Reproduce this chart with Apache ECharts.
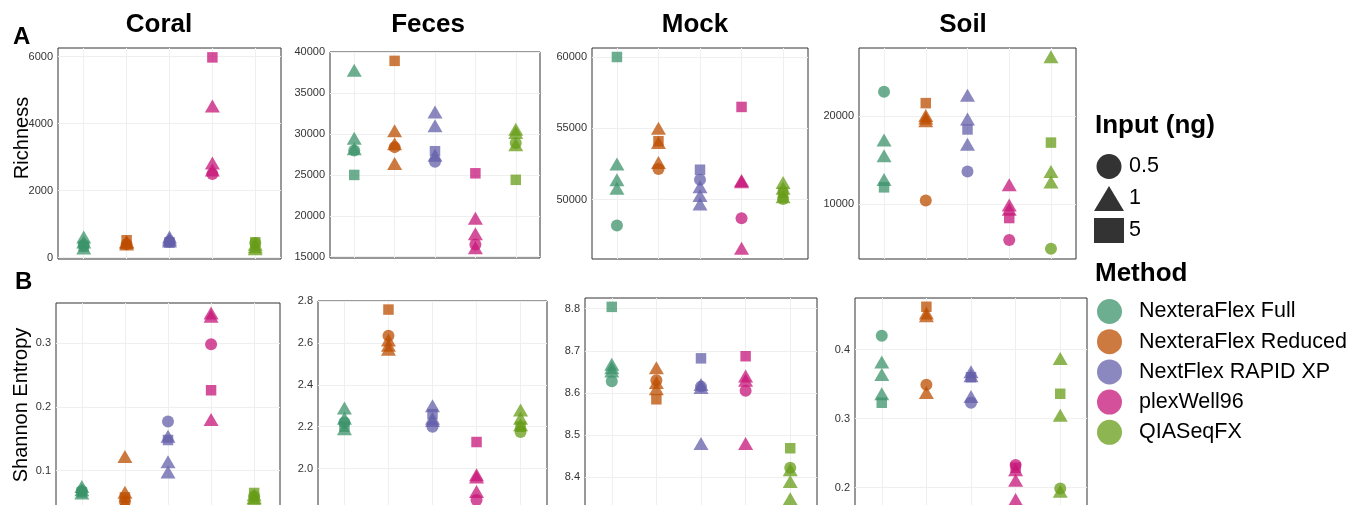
<!DOCTYPE html>
<html>
<head>
<meta charset="utf-8">
<script src="https://cdn.jsdelivr.net/npm/echarts@6/dist/echarts.min.js"></script>
<style>
html,body{margin:0;padding:0;background:#fff;overflow:hidden;}
#chart{width:1355px;height:540px;}
</style>
</head>
<body>
<div id="chart"></div>
<script>
// ---------- DATA ----------
const sites = ['Coral', 'Feces', 'Mock', 'Soil'];
const methods = ['NexteraFlex Full', 'NexteraFlex Reduced', 'NextFlex RAPID XP', 'plexWell96', 'QIASeqFX'];
const inputLevels = ['0.5', '1', '5'];
// input (ng) of each replicate, in the order of the value rows below
const pointInputs = ['0.5', '1', '1', '1', '5'];

// Richness, rows = methods, columns follow pointInputs
const richnessCoral = [
  [380, 620, 470, 290, 330],
  [400, 480, 450, 410, 520],
  [480, 620, 550, 500, 450],
  [2500, 4530, 2830, 2620, 5980],
  [440, 400, 330, 270, 460]
];
const richnessFeces = [
  [28000, 37800, 29500, 28200, 25000],
  [28400, 30400, 28800, 26400, 38950],
  [26600, 32700, 31000, 27400, 27900],
  [16500, 19700, 17800, 16100, 25200],
  [28900, 30600, 30200, 28700, 24400]
];
const richnessMock = [
  [48200, 52500, 51400, 50800, 60000],
  [52150, 55000, 54000, 52600, 54100],
  [51400, 50900, 50300, 49700, 52100],
  [48700, 51350, 51250, 46600, 56500],
  [50050, 51200, 50800, 50200, 50500]
];
const richnessSoil = [
  [22800, 17300, 15500, 12800, 11900],
  [10400, 20100, 19800, 19500, 21500],
  [13700, 22400, 19700, 16800, 18500],
  [5900, 12200, 9900, 9400, 8400],
  [4900, 26800, 13700, 12500, 17000]
];

// Shannon entropy
const shannonCoral = [
  [0.068, 0.075, 0.070, 0.065, 0.066],
  [0.052, 0.122, 0.066, 0.050, 0.058],
  [0.177, 0.154, 0.114, 0.098, 0.148],
  [0.298, 0.347, 0.342, 0.180, 0.226],
  [0.060, 0.062, 0.058, 0.055, 0.065]
];
const shannonFeces = [
  [2.22, 2.29, 2.24, 2.19, 2.20],
  [2.635, 2.615, 2.59, 2.57, 2.76],
  [2.20, 2.30, 2.24, 2.23, 2.26],
  [1.85, 1.97, 1.96, 1.89, 2.127],
  [2.175, 2.28, 2.24, 2.21, 2.20]
];
const shannonMock = [
  [8.628, 8.668, 8.660, 8.652, 8.804],
  [8.630, 8.660, 8.625, 8.610, 8.585],
  [8.615, 8.620, 8.613, 8.480, 8.682],
  [8.605, 8.640, 8.630, 8.480, 8.687],
  [8.423, 8.418, 8.390, 8.349, 8.469]
];
const shannonSoil = [
  [0.420, 0.382, 0.364, 0.336, 0.323],
  [0.349, 0.453, 0.449, 0.338, 0.462],
  [0.323, 0.368, 0.362, 0.332, 0.360],
  [0.233, 0.226, 0.211, 0.183, 0.229],
  [0.199, 0.387, 0.305, 0.195, 0.336]
];

// Tick labels
const richnessTicksCoral = [0, 2000, 4000, 6000];
const richnessTicksFeces = [15000, 20000, 25000, 30000, 35000, 40000];
const richnessTicksMock = [50000, 55000, 60000];
const richnessTicksSoil = [10000, 20000];
const shannonTicksCoral = [0.1, 0.2, 0.3];
const shannonTicksFeces = [1.8, 2.0, 2.2, 2.4, 2.6, 2.8];
const shannonTicksMock = [8.3, 8.4, 8.5, 8.6, 8.7, 8.8];
const shannonTicksSoil = [0.2, 0.3, 0.4];

// ---------- LAYOUT / STYLE ----------
const FONT = '"Liberation Sans", Arial, Helvetica, sans-serif';
const methodColors = ['#3b936a', '#bc4e00', '#645faa', '#c71678', '#679c17'];
const pointOpacity = 0.75;
const shapeSymbol = { '0.5': 'circle', '1': 'triangle', '5': 'rect' };
const shapeSize = { '0.5': 12, '1': [15, 13], '5': 10.5 };

const rows = [
  { label: 'A', title: 'Richness', decimals: 0,
    values: [richnessCoral, richnessFeces, richnessMock, richnessSoil],
    ticks: [richnessTicksCoral, richnessTicksFeces, richnessTicksMock, richnessTicksSoil],
    boxes: [
      { left: 58, top: 48, width: 223, height: 211, min: -39, max: 6260 },
      { left: 330, top: 52, width: 210, height: 206, min: 14840, max: 40035 },
      { left: 592, top: 48, width: 216, height: 211, min: 45845, max: 60630 },
      { left: 859, top: 48, width: 217, height: 211, min: 3730, max: 27785 }
    ] },
  { label: 'B', title: 'Shannon Entropy', decimals: 1,
    values: [shannonCoral, shannonFeces, shannonMock, shannonSoil],
    ticks: [shannonTicksCoral, shannonTicksFeces, shannonTicksMock, shannonTicksSoil],
    boxes: [
      { left: 56, top: 303, width: 224, height: 211, min: 0.032, max: 0.3628 },
      { left: 318, top: 301, width: 229, height: 211, min: 1.7925, max: 2.801 },
      { left: 585, top: 298, width: 232, height: 211, min: 8.325, max: 8.825 },
      { left: 855, top: 298, width: 232, height: 211, min: 0.1692, max: 0.4747 }
    ] }
];

const grids = [], xAxes = [], yAxes = [], series = [];

rows.forEach((row, r) => {
  sites.forEach((site, s) => {
    const gi = r * 4 + s;
    const b = row.boxes[s];
    const ticks = row.ticks[s].filter(t => t >= b.min && t <= b.max);
    grids.push({
      left: b.left, top: b.top, width: b.width, height: b.height,
      show: true, borderColor: '#333', borderWidth: 1, backgroundColor: '#fff'
    });
    xAxes.push({
      type: 'value', gridIndex: gi, min: -0.6, max: methods.length - 0.4, show: false
    });
    yAxes.push({
      type: 'value', gridIndex: gi, min: b.min, max: b.max,
      axisLine: { show: false },
      splitLine: { show: false },
      axisTick: { show: true, length: 3, lineStyle: { color: '#333', width: 1 }, customValues: ticks },
      axisLabel: {
        customValues: ticks, margin: 5, fontSize: 11, color: '#333', fontFamily: FONT,
        formatter: v => Number(v).toFixed(row.decimals)
      }
    });
    // grid lines
    series.push({
      type: 'scatter', xAxisIndex: gi, yAxisIndex: gi, data: [], silent: true, z: 1,
      markLine: {
        silent: true, z: 1, animation: false, symbol: ['none', 'none'],
        label: { show: false },
        lineStyle: { color: '#efefef', width: 1, type: 'solid' },
        emphasis: { disabled: true },
        data: methods.map((m, i) => ({ xAxis: i })).concat(ticks.map(t => ({ yAxis: t })))
      }
    });
    // points
    methods.forEach((m, mi) => {
      series.push({
        type: 'scatter', name: m, xAxisIndex: gi, yAxisIndex: gi, z: 3,
        itemStyle: { color: methodColors[mi], opacity: pointOpacity },
        emphasis: { disabled: true },
        data: row.values[s][mi].map((v, k) => ({
          value: [mi, v],
          symbol: shapeSymbol[pointInputs[k]],
          symbolSize: shapeSize[pointInputs[k]]
        }))
      });
    });
  });
});

// dummy series for the Input legend
inputLevels.forEach(lv => {
  series.push({
    type: 'scatter', name: lv, xAxisIndex: 0, yAxisIndex: 0, data: [],
    symbol: shapeSymbol[lv], itemStyle: { color: '#333', opacity: 1 }
  });
});

const graphics = [];
function addText(text, x, y, size, bold, opts) {
  opts = opts || {};
  graphics.push({
    type: 'text', x: x, y: y, rotation: opts.rotation || 0, silent: true,
    style: {
      text: text, x: 0, y: 0,
      font: (bold ? 'bold ' : '') + size + 'px ' + FONT,
      fill: '#000',
      align: opts.align || 'center', verticalAlign: 'middle',
      textAlign: opts.align || 'center', textVerticalAlign: 'middle'
    }
  });
}
const titleX = [159, 428, 695, 963];
sites.forEach((s, i) => addText(s, titleX[i], 25, 26, true));
addText('A', 13, 37, 24, true, { align: 'left' });
addText('B', 15, 282, 24, true, { align: 'left' });
addText(rows[0].title, 22, 138, 20, false, { rotation: Math.PI / 2 });
addText(rows[1].title, 21, 405, 20, false, { rotation: Math.PI / 2 });
addText('Input (ng)', 1095, 126, 26, true, { align: 'left' });
addText('Method', 1095, 274, 26, true, { align: 'left' });

const legendIcons = { '0.5': 'circle', '1': 'path://M15,0L30,25L0,25Z', '5': 'rect' };

const option = {
  animation: false,
  backgroundColor: '#fff',
  grid: grids,
  xAxis: xAxes,
  yAxis: yAxes,
  series: series,
  graphic: { elements: graphics },
  legend: [
    {
      orient: 'vertical', left: 1094, top: 154, padding: 0, itemWidth: 30, itemHeight: 25, itemGap: 7,
      selectedMode: false,
      data: inputLevels.map(lv => ({ name: lv, icon: legendIcons[lv] })),
      textStyle: { fontSize: 21.5, color: '#000', fontFamily: FONT }
    },
    {
      orient: 'vertical', left: 1097, top: 299, padding: 0, itemWidth: 25, itemHeight: 25, itemGap: 5.2,
      selectedMode: false,
      data: methods.map(m => ({ name: m, icon: 'circle' })),
      textStyle: { fontSize: 21.5, color: '#000', fontFamily: FONT, padding: [0, 0, 0, 12] }
    }
  ]
};

const chart = echarts.init(document.getElementById('chart'), null, { renderer: 'canvas' });
chart.setOption(option);
</script>
</body>
</html>
